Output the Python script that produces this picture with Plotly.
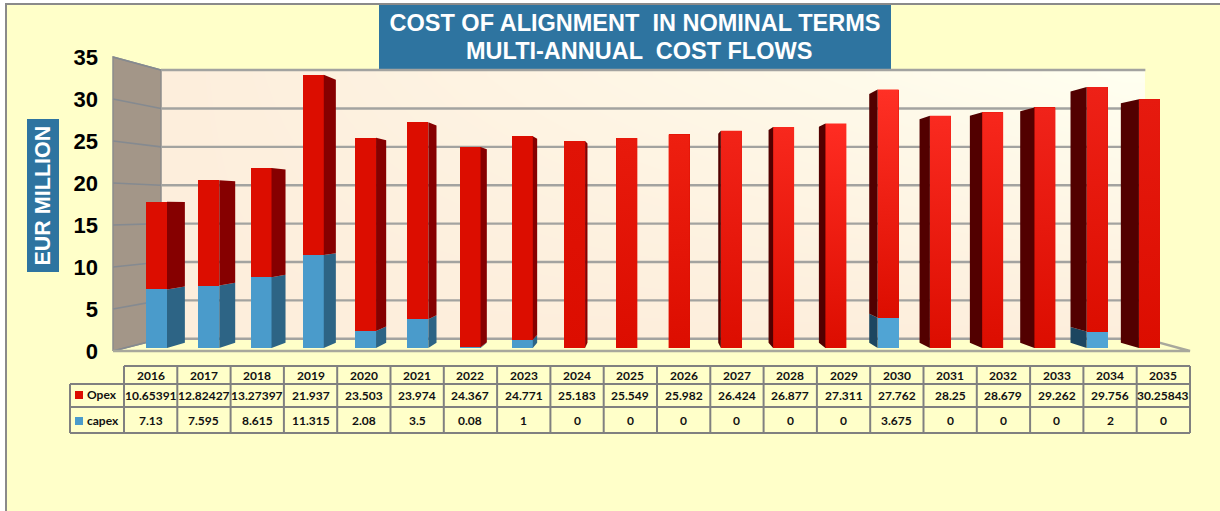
import plotly.graph_objects as go

YEARS = list(range(2016, 2036))
OPEX = [10.65391, 12.82427, 13.27397, 21.937, 23.503, 23.974, 24.367, 24.771, 25.183, 25.549,
        25.982, 26.424, 26.877, 27.311, 27.762, 28.25, 28.679, 29.262, 29.756, 30.25843]
CAPEX = [7.13, 7.595, 8.615, 11.315, 2.08, 3.5, 0.08, 1, 0, 0,
         0, 0, 0, 0, 3.675, 0, 0, 0, 2, 0]
TICKS = [0, 5, 10, 15, 20, 25, 30, 35]
SERIES_NAMES = ["Opex", "capex"]
TITLE_LINES = ["COST OF ALIGNMENT  IN NOMINAL TERMS", "MULTI-ANNUAL  COST FLOWS"]
YLABEL = "EUR MILLION"

# ---- canvas / axis calibration ----
W, H = 1220, 511
BG = "#FFFFC9"
PITCH = 52.26
X0PX = 156.5          # pixel centre of the first bar
BAR_W = 21 / PITCH
Y1_BASE, Y1_SCALE = 351.0, 8.4    # front wall scale
Y2_BASE, Y2_SCALE = 348.0, 8.22   # bar plane scale
RED, DRED_R, DRED_L = "#DC0D00", "#860000", "#520000"
BLUE, DBLUE_R, DBLUE_L = "#4A9BCB", "#2D6485", "#1C4660"
# colour reached at the top of each red front face (the lighting brightens to the right of centre)
RED_TOP = {2024: "#E01306", 2025: "#E81A0C", 2026: "#EE1F10", 2027: "#F22318", 2028: "#F8281D", 2029: "#FF2C22",
           2030: "#FF3025", 2031: "#FA2A20", 2032: "#F7271C", 2033: "#F0231A", 2034: "#EE2117", 2035: "#E61A0F"}


def px2year(p):
    return YEARS[0] + (p - X0PX) / PITCH


XR = [px2year(0), px2year(W)]
Y1R = [(Y1_BASE - H) / Y1_SCALE, Y1_BASE / Y1_SCALE]
Y2R = [(Y2_BASE - H) / Y2_SCALE, Y2_BASE / Y2_SCALE]

# room perspective
ROOM_XV = px2year(671)
ROOM_VV = (Y1_BASE - 209) / Y1_SCALE
ROOM_R = 0.914
XL, XRT = px2year(113), px2year(1190)
TOP = 35


def back(x, v):
    return ROOM_XV + (x - ROOM_XV) * ROOM_R, ROOM_VV + (v - ROOM_VV) * ROOM_R


# bar depth perspective
BAR_XV = px2year(650)
BAR_VV = (Y2_BASE - 209) / Y2_SCALE
BAR_K = 0.037


def bar_back(x, v):
    return x + (BAR_XV - x) * BAR_K, v + (BAR_VV - v) * BAR_K


fig = go.Figure()

# back wall gradient
bl_x, bl_v = back(XL, 0)
tr_x, tr_v = back(XRT, TOP)
N = 24
wx = [bl_x + (tr_x - bl_x) * i / N for i in range(N + 1)]
wy = [bl_v + (tr_v - bl_v) * j / N for j in range(N + 1)]
wz = [[(i / (N - 1)) * (j / (N - 1)) for i in range(N)] for j in range(N)]
fig.add_trace(go.Heatmap(x=wx, y=wy, z=wz, zmin=0, zmax=1, zsmooth="best", showscale=False, hoverinfo="skip",
                         colorscale=[[0, "#FDEEDC"], [1, "#FFFFF0"]]))

# left wall (its tick labels come from this axis)
lbx, lbv = back(XL, 0)
ltx, ltv = back(XL, TOP)
fig.add_trace(go.Scatter(x=[XL, XL, ltx, lbx, XL], y=[0, TOP, ltv, lbv, 0], mode="lines", fill="toself",
                         fillcolor="#A39688", line=dict(color="#8C8C8C", width=1.5), hoverinfo="skip", showlegend=False))

# gridlines
gx, gy, lx, ly = [], [], [], []
for t in TICKS:
    ax, av = back(XL, t)
    bx, bv = back(XRT, t)
    gx += [ax, bx, None]
    gy += [av, bv, None]
    lx += [XL, ax, None]
    ly += [t, av, None]
fig.add_trace(go.Scatter(x=gx, y=gy, mode="lines", line=dict(color="#A3A3A0", width=2.4), hoverinfo="skip", showlegend=False))
fig.add_trace(go.Scatter(x=lx, y=ly, mode="lines", line=dict(color="#858A90", width=1.6), hoverinfo="skip", showlegend=False))

# floor edges
fx = [XL, XRT, back(XRT, 0)[0]]
fy = [0, 0, back(XRT, 0)[1]]
fig.add_trace(go.Scatter(x=fx, y=fy, mode="lines", line=dict(color="#A8A89C", width=2.4), hoverinfo="skip", showlegend=False))

# bars (front faces)
blue_cols = ["#50A4D4" if y > 2025 else BLUE for y in YEARS]
fig.add_trace(go.Bar(x=YEARS, y=CAPEX, name=SERIES_NAMES[1], marker=dict(color=blue_cols, line_width=0), width=BAR_W, yaxis="y2", showlegend=False))
fig.add_trace(go.Bar(x=YEARS, y=OPEX, name=SERIES_NAMES[0], marker=dict(color=RED, line_width=0), width=BAR_W, yaxis="y2", showlegend=False))

# lighting overlay on the red faces of the right-hand bars
for yr, c, o in zip(YEARS, CAPEX, OPEX):
    if yr not in RED_TOP:
        continue
    xa, xb = yr - BAR_W / 2, yr + BAR_W / 2
    fig.add_trace(go.Scatter(x=[xa, xa, xb, xb, xa], y=[c, c + o, c + o, c, c], mode="lines", fill="toself",
                             fillgradient=dict(type="vertical", start=c + o, stop=c,
                                               colorscale=[[0, RED_TOP[yr]], [1, RED]]),
                             line=dict(width=0), yaxis="y2", hoverinfo="skip", showlegend=False))

# bar side faces
groups = {k: ([], []) for k in ("cr", "cl", "or", "ol")}
for yr, c, o in zip(YEARS, CAPEX, OPEX):
    right = yr < BAR_XV
    ex = yr + BAR_W / 2 if right else yr - BAR_W / 2
    for kind, v0, v1 in (("c", 0, c), ("o", c, c + o)):
        if v1 <= v0:
            continue
        bx0, bv0 = bar_back(ex, v0)
        bx1, bv1 = bar_back(ex, v1)
        g = groups[kind + ("r" if right else "l")]
        g[0].extend([ex, ex, bx1, bx0, ex, None])
        g[1].extend([v0, v1, bv1, bv0, v0, None])
for key, col in (("cr", DBLUE_R), ("cl", DBLUE_L), ("or", DRED_R), ("ol", DRED_L)):
    fig.add_trace(go.Scatter(x=groups[key][0], y=groups[key][1], mode="lines", fill="toself", fillcolor=col,
                             line=dict(width=0, color=col), yaxis="y2", hoverinfo="skip", showlegend=False))


def X(p):
    return p / W


def Y(p):
    return 1 - p / H


shapes = [
    dict(type="rect", xref="paper", yref="paper", x0=X(6), x1=X(W + 5), y0=Y(H + 5), y1=Y(4),
         fillcolor=BG, line=dict(color="#8A8A8A", width=2), layer="below"),
    dict(type="rect", xref="paper", yref="paper", x0=X(379), x1=X(891), y0=Y(69), y1=Y(5),
         fillcolor="#2E74A0", line_width=0, layer="below"),
    dict(type="rect", xref="paper", yref="paper", x0=X(27), x1=X(59), y0=Y(272), y1=Y(119),
         fillcolor="#2E74A0", line_width=0, layer="below"),
]
annots = []

# data table
C0, C1, COLW = 124.0, 70.0, (1190 - 124) / 20
R = [366, 384, 407, 433]
GRID = dict(color="#808080", width=2)


def hline(x0, x1, y):
    shapes.append(dict(type="line", xref="paper", yref="paper", x0=X(x0), x1=X(x1), y0=Y(y), y1=Y(y), line=GRID))


def vline(x, y0, y1):
    shapes.append(dict(type="line", xref="paper", yref="paper", x0=X(x), x1=X(x), y0=Y(y0), y1=Y(y1), line=GRID))


hline(C0, 1190, R[0])
for y in R[1:]:
    hline(C1, 1190, y)
vline(C1, R[1], R[3])
for i in range(21):
    vline(C0 + COLW * i, R[0], R[3])


def cell(x, y, text, anchor="center"):
    annots.append(dict(xref="paper", yref="paper", x=X(x), y=Y(y), text=text, showarrow=False, xanchor=anchor, yanchor="middle",
                       font=dict(family="Lato", size=12, color="#111111", weight="bold")))


for i, yr in enumerate(YEARS):
    cx = C0 + COLW * (i + .5)
    cell(cx, 375, str(yr))
    cell(cx, 395.5, f"{OPEX[i]:.10g}")
    cell(cx, 420.5, f"{CAPEX[i]:.10g}")
for name, col, cy in ((SERIES_NAMES[0], RED, 395), (SERIES_NAMES[1], BLUE, 421)):
    shapes.append(dict(type="rect", xref="paper", yref="paper", x0=X(75), x1=X(83), y0=Y(cy + 4), y1=Y(cy - 4), fillcolor=col, line_width=0))
    cell(85, cy - 1, name, "left")

annots.append(dict(xref="paper", yref="paper", x=X(42.5), y=Y(195), text=YLABEL, textangle=-90, showarrow=False,
                   xanchor="center", yanchor="middle",
                   font=dict(family="Liberation Sans", size=21.5, color="white", weight="bold")))
TITLE_FONT = dict(family="Liberation Sans", size=23.5, color="white", weight="bold")
annots.append(dict(xref="paper", yref="paper", x=X(639), y=Y(51), text=TITLE_LINES[1], showarrow=False,
                   xanchor="center", yanchor="middle", font=TITLE_FONT))

fig.update_layout(
    width=W, height=H, margin=dict(l=0, r=0, t=0, b=0), autosize=False,
    paper_bgcolor="white", plot_bgcolor="rgba(0,0,0,0)", barmode="stack", bargap=0, showlegend=False,
    title=dict(text=TITLE_LINES[0], x=635 / W, xanchor="center", y=1 - 23 / H, yanchor="middle", font=TITLE_FONT),
    xaxis=dict(range=XR, visible=False, fixedrange=True),
    yaxis=dict(range=Y1R, tickvals=TICKS, showgrid=False, zeroline=False, showline=False, ticks="", anchor="free",
               position=98 / W, tickfont=dict(family="Liberation Sans", size=22, color="black", weight="bold"), fixedrange=True),
    yaxis2=dict(range=Y2R, overlaying="y", visible=False, fixedrange=True),
    shapes=shapes, annotations=annots,
)

fig.write_html("out.html", config={"displayModeBar": False},
               post_script="document.body.style.margin='0';document.documentElement.style.overflow='hidden';")
